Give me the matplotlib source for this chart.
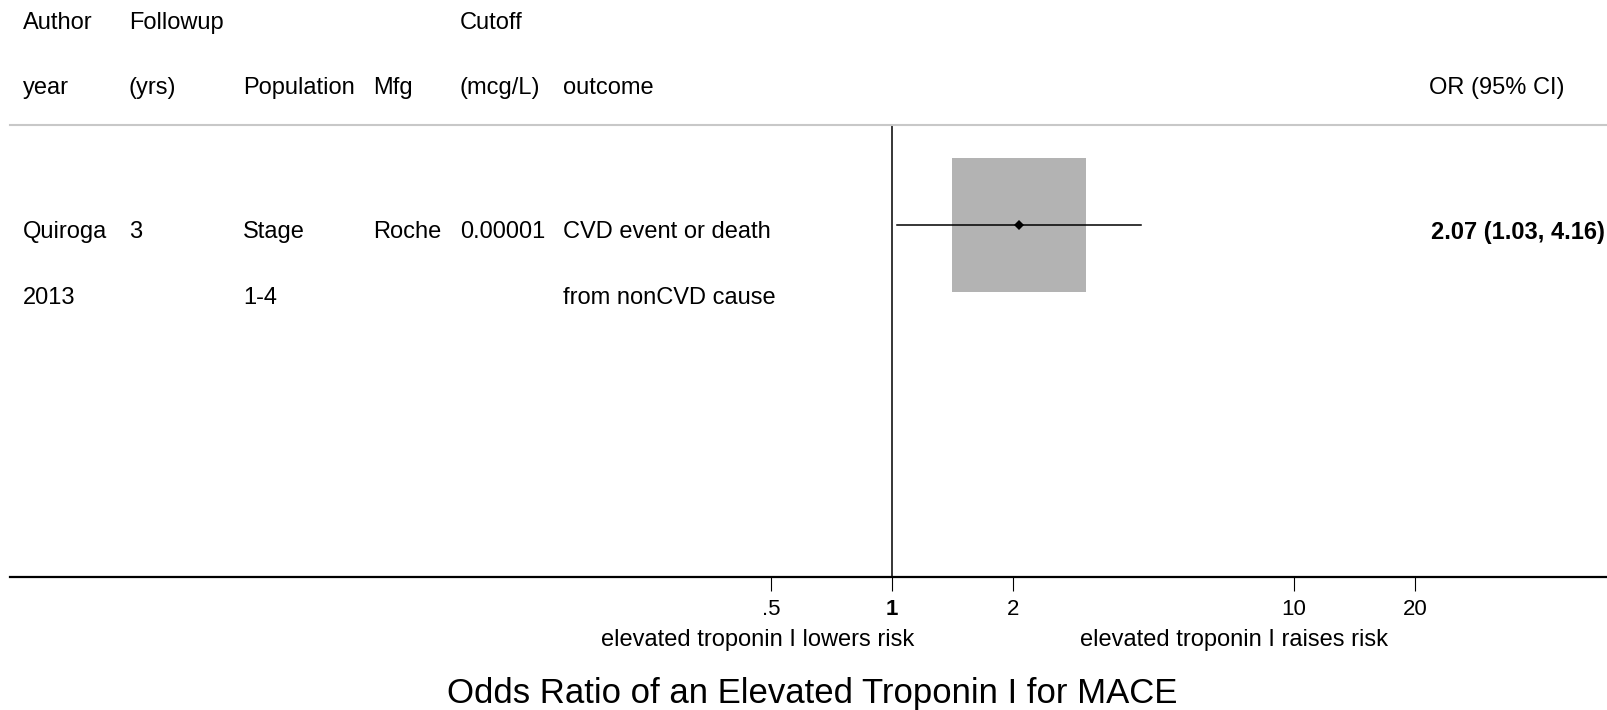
import matplotlib
matplotlib.use("Agg")
import matplotlib.pyplot as plt
from matplotlib.lines import Line2D

plt.rcParams['font.family'] = ['Liberation Sans', 'DejaVu Sans']

# ---- study data ----
header_top = ["Author", "Followup", "", "", "Cutoff", ""]
header_bottom = ["year", "(yrs)", "Population", "Mfg", "(mcg/L)", "outcome"]
study_line1 = ["Quiroga", "3", "Stage", "Roche", "0.00001", "CVD event or death"]
study_line2 = ["2013", "", "1-4", "", "", "from nonCVD cause"]
odds_ratio = [2.07]
ci_low = [1.03]
ci_high = [4.16]
or_labels = ["2.07 (1.03, 4.16)"]

tick_values = [0.5, 1, 2, 10, 20]
tick_labels = [".5", "1", "2", "10", "20"]
left_label = "elevated troponin I lowers risk"
right_label = "elevated troponin I raises risk"
title = "Odds Ratio of an Elevated Troponin I for MACE"

# ---- layout (pixels, y measured from top) ----
W, H = 1608, 710
col_x = [23, 129, 243, 373, 460, 563]
or_col_x = 1431
px_per_decade = 402.0
ref_px = 892.0            # pixel position of OR = 1
plot_left, plot_right = 10, 1608
plot_top, plot_bottom = 125, 577
row_y = [100]             # marker rows inside the plot (pixels below the top rule)

fig = plt.figure(figsize=(W / 100, H / 100), dpi=100)


def ftext(x, y, s, **kw):
    fig.text(x / W, 1 - y / H, s, **kw)


ax = fig.add_axes([plot_left / W, 1 - plot_bottom / H,
                   (plot_right - plot_left) / W, (plot_bottom - plot_top) / H])
ax.set_xscale('log')
ax.set_xlim(10 ** ((plot_left - ref_px) / px_per_decade),
            10 ** ((plot_right - ref_px) / px_per_decade))
ax.set_ylim(plot_bottom - plot_top, 0)

for s in ['top', 'left', 'right']:
    ax.spines[s].set_visible(False)
ax.spines['bottom'].set_linewidth(1.6)
ax.set_yticks([])
ax.xaxis.set_minor_locator(matplotlib.ticker.NullLocator())
ax.set_xticks(tick_values)
ax.set_xticklabels(tick_labels)
ax.tick_params(axis='x', length=10, width=0.8, pad=5.5, labelsize=16, colors='black')
for lbl, v in zip(ax.get_xticklabels(), tick_values):
    if v == 1:
        lbl.set_fontweight('bold')

# null line
ax.axvline(1, color='black', lw=1.1)

# study marker: weight box, CI, point estimate
for y, orv, lo, hi in zip(row_y, odds_ratio, ci_low, ci_high):
    ax.plot([orv], [y], marker='s', ms=96.5, color='#b3b3b3', mew=0, zorder=2)
    ax.plot([lo, hi], [y, y], color='black', lw=1.1, zorder=3)
    ax.plot([orv], [y], marker='D', ms=5, color='black', mew=0, zorder=4)

# header rule
fig.add_artist(Line2D([plot_left / W, 1], [1 - plot_top / H] * 2,
                      color='#c8c8c8', lw=1.5))

fs = 17
for x, t1, t2 in zip(col_x, header_top, header_bottom):
    ftext(x, 23, t1, fontsize=fs, va='center', ha='left')
    ftext(x, 88, t2, fontsize=fs, va='center', ha='left')
ftext(or_col_x - 2, 88, "OR (95% CI)", fontsize=fs, va='center', ha='left')

for x, t1, t2 in zip(col_x, study_line1, study_line2):
    ftext(x, 232, t1, fontsize=fs, va='center', ha='left')
    ftext(x, 298, t2, fontsize=fs, va='center', ha='left')
for lab in or_labels:
    ftext(or_col_x, 232, lab, fontsize=fs, va='center', ha='left', fontweight='bold')

ftext(758, 640, left_label, fontsize=17, va='center', ha='center')
ftext(1234, 640, right_label, fontsize=17, va='center', ha='center')
ftext(812, 694, title, fontsize=25, va='center', ha='center')

fig.savefig("out.png", dpi=100)
